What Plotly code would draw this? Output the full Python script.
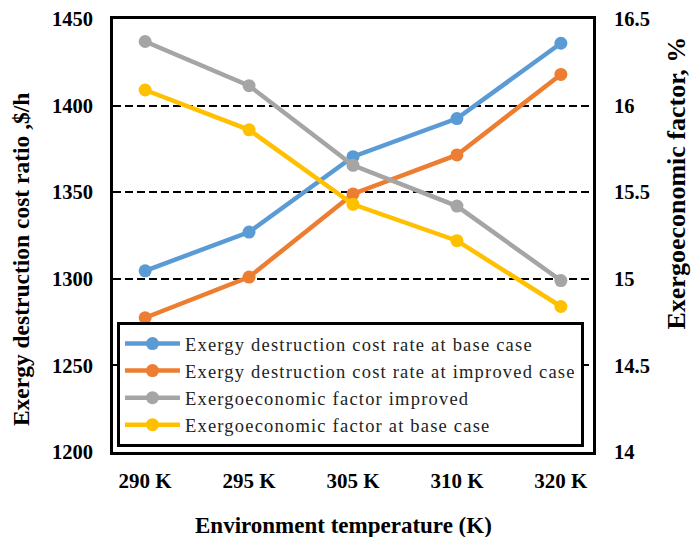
import plotly.graph_objects as go

categories = ["290 K", "295 K", "305 K", "310 K", "320 K"]
cost_base = [1304.6, 1327, 1370.5, 1392.5, 1436]
cost_improved = [1277.5, 1301, 1349, 1371.5, 1418]
factor_improved = [16.37, 16.115, 15.655, 15.42, 14.99]
factor_base = [16.09, 15.86, 15.43, 15.22, 14.84]

names = [
    "Exergy destruction cost rate at base case",
    "Exergy destruction cost rate at improved case",
    "Exergoeconomic factor improved",
    "Exergoeconomic factor at base case",
]
colors = ["#5B9BD5", "#ED7D31", "#A5A5A5", "#FFC000"]
serif = "Liberation Serif, Times New Roman, serif"

fig = go.Figure()
series = [(cost_base, "y"), (cost_improved, "y"), (factor_improved, "y2"), (factor_base, "y2")]
for (vals, ax), name, col in zip(series, names, colors):
    fig.add_trace(go.Scatter(
        x=categories, y=vals, yaxis=ax, mode="lines+markers",
        name='<span style="letter-spacing:1.2px">' + name + "</span>",
        line=dict(color=col, width=4.5), marker=dict(color=col, size=13),
    ))

# the page body has an 8px margin, so margins are shifted by 8px
fig.update_layout(
    width=699, height=537,
    margin=dict(l=105, r=114, t=11, b=93, autoexpand=False),
    paper_bgcolor="white", plot_bgcolor="white",
    font=dict(family=serif, color="black"),
    showlegend=True,
    legend=dict(
        x=0.0083, y=0.0115, xanchor="left", yanchor="bottom",
        bgcolor="white", bordercolor="black", borderwidth=3,
        font=dict(family=serif, size=18.5, color="#222"),
        tracegroupgap=0, itemwidth=55,
    ),
    xaxis=dict(
        type="category", showline=True, mirror=True, linecolor="black", linewidth=3,
        showgrid=False, ticks="", ticklabelstandoff=8, automargin=False,
        tickfont=dict(family=serif, size=21, color="black", weight="bold"),
    ),
    yaxis=dict(
        range=[1200, 1450], dtick=50, showline=True, mirror=True, linecolor="black", linewidth=3,
        showgrid=True, gridcolor="black", gridwidth=2, griddash="8px,4px", zeroline=False,
        ticks="", ticklabelstandoff=13, automargin=False, ticklabeloverflow="allow",
        tickfont=dict(family=serif, size=20.5, color="black", weight="bold"),
    ),
    yaxis2=dict(
        range=[14, 16.5], dtick=0.5, overlaying="y", side="right", showgrid=False,
        zeroline=False, showline=False, ticks="", ticklabelstandoff=20, automargin=False,
        ticklabeloverflow="allow",
        tickfont=dict(family=serif, size=20.5, color="black", weight="bold"),
    ),
    annotations=[
        dict(text="<b>Exergy destruction cost ratio ,$/h</b>", xref="paper", yref="paper",
             x=-0.19, y=0.445, xanchor="center", yanchor="middle", textangle=-90,
             showarrow=False, font=dict(family=serif, size=23.5, color="black")),
        dict(text="<b>Exergoeconomic factor, %</b>", xref="paper", yref="paper",
             x=1.175, y=0.62, xanchor="center", yanchor="middle", textangle=-90,
             showarrow=False, font=dict(family=serif, size=26, color="black")),
        dict(text="<b>Environment temperature (K)</b>", xref="paper", yref="paper",
             x=0.481, y=-0.169, xanchor="center", yanchor="middle",
             showarrow=False, font=dict(family=serif, size=23, color="black")),
    ],
)

fig.write_html("out.html")
